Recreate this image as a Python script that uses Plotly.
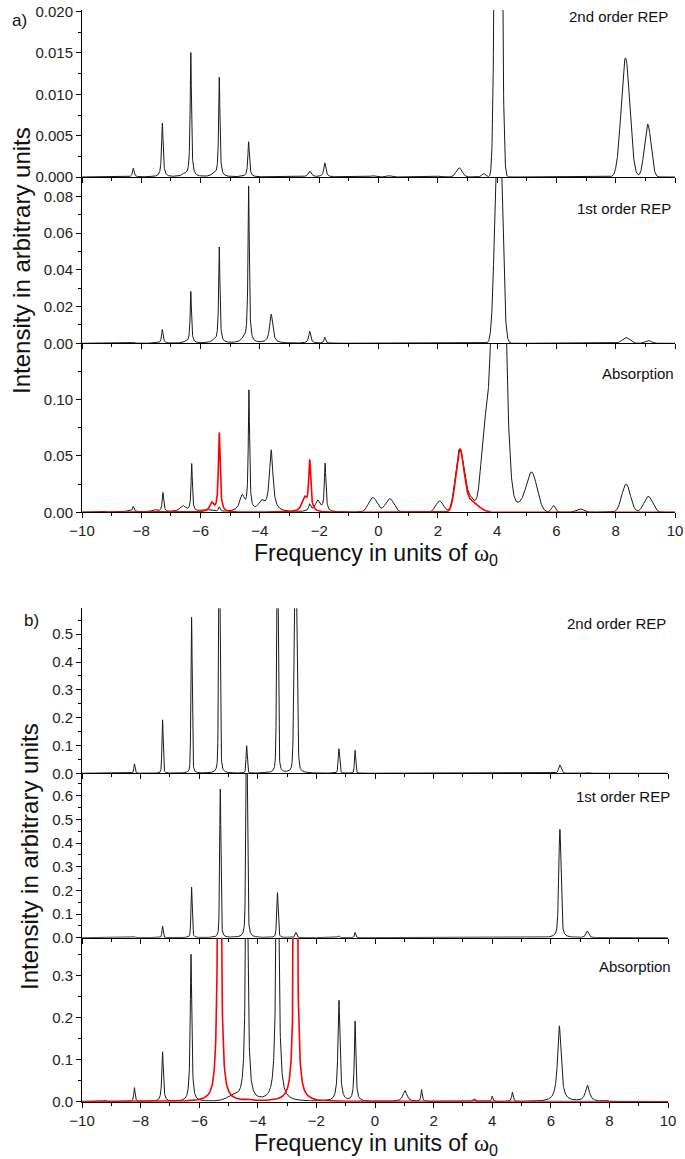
import numpy as np
import plotly.graph_objects as go

W, H = 685, 1159

# ---------------- data: spectral peaks ----------------
# each spectrum = list of peaks: centre (units of w0), height, half width, Lorentzian fraction
# panel a) 2nd order REP
a2_pos = [-8.27, -7.29, -6.55, -6.33, -5.57, -5.37, -4.38, -2.32, -1.81, -0.20, 0.35, 2.05, 2.72, 3.55, 4.04, 8.33, 9.08]
a2_amp = [0.00105, 0.0065, 0.0003, 0.0150, 0.0003, 0.0120, 0.00425, 0.0007, 0.0017, 0.00015, 0.00015, 0.0001, 0.0011, 0.0004, 0.12, 0.0144, 0.0064]
a2_hw = [0.03, 0.03, 0.08, 0.025, 0.08, 0.025, 0.03, 0.06, 0.04, 0.1, 0.1, 0.1, 0.12, 0.08, 0.095, 0.17, 0.13]
a2_eta = [1, 1, 1, 1, 1, 1, 1, 1, 1, 0, 0, 0, 0, 0, 0, 0, 0]

# panel a) 1st order REP
a1_pos = [-8.27, -7.29, -6.50, -6.33, -5.55, -5.37, -4.55, -4.38, -3.62, -2.32, -1.81, 4.05, 5.90, 8.35, 9.10]
a1_amp = [0.0006, 0.0075, 0.0006, 0.028, 0.0012, 0.052, 0.0020, 0.085, 0.0158, 0.0065, 0.0033, 0.14, 0.0004, 0.0031, 0.0015]
a1_hw = [0.03, 0.03, 0.1, 0.025, 0.1, 0.025, 0.1, 0.025, 0.06, 0.04, 0.03, 0.13, 0.1, 0.15, 0.12]
a1_eta = [1, 1, 1, 1, 1, 1, 1, 1, 1, 1, 1, 0, 0, 0, 0]

# panel a) absorption (black)
aA_pos = [-9.22, -8.40, -8.27, -7.55, -7.27, -6.60, -6.30, -5.80, -5.37, -4.60, -4.37, -3.95, -3.62, -2.32, -2.05, -1.80,
          -0.19, 0.38, 2.06, 2.74, 3.10, 3.58, 4.05, 4.70, 5.17, 5.90, 6.80, 8.35, 9.10]
aA_amp = [0.0008, 0.001, 0.0045, 0.002, 0.017, 0.0055, 0.042, 0.002, 0.004, 0.014, 0.105, 0.008, 0.054, 0.006, 0.010, 0.042,
          0.013, 0.012, 0.010, 0.055, 0.012, 0.065, 0.38, 0.007, 0.033, 0.006, 0.003, 0.025, 0.014]
aA_hw = [0.03, 0.2, 0.03, 0.1, 0.03, 0.12, 0.025, 0.2, 0.03, 0.1, 0.025, 0.12, 0.07, 0.04, 0.1, 0.03,
         0.17, 0.17, 0.15, 0.17, 0.2, 0.15, 0.22, 0.4, 0.21, 0.08, 0.15, 0.17, 0.17]
aA_eta = [1, 1, 1, 1, 1, 1, 1, 1, 1, 1, 1, 1, 1, 1, 1, 1,
          0, 0, 0, 0, 0, 0, 0, 0, 0, 0, 0, 0, 0]

# panel a) absorption (red)
aR_pos = [-5.63, -5.37, -2.50, -2.32, 2.74, 3.10]
aR_amp = [0.008, 0.070, 0.012, 0.044, 0.052, 0.010]
aR_hw = [0.08, 0.035, 0.1, 0.04, 0.16, 0.3]
aR_eta = [1, 1, 1, 1, 0, 0]

# panel b) 2nd order REP
b2_pos = [-8.21, -7.25, -6.26, -5.31, -4.38, -3.33, -2.71, -1.23, -0.68, 6.31, 7.23]
b2_amp = [0.034, 0.192, 0.56, 1.0, 0.098, 0.9, 0.9, 0.088, 0.082, 0.030, 0.003]
b2_hw = [0.025, 0.025, 0.025, 0.028, 0.025, 0.03, 0.05, 0.03, 0.025, 0.05, 0.06]
b2_eta = [0.3, 0.3, 0.3, 0.3, 0.3, 0.3, 0.2, 0.3, 0.3, 0.3, 0.3]

# panel b) 1st order REP
b1_pos = [-8.21, -7.25, -6.26, -5.28, -4.38, -3.33, -2.70, -1.23, -0.68, 4.70, 6.31, 7.24]
b1_amp = [0.004, 0.049, 0.213, 0.628, 1.0, 0.19, 0.0225, 0.008, 0.0225, 0.003, 0.458, 0.028]
b1_hw = [0.025, 0.025, 0.025, 0.025, 0.03, 0.03, 0.035, 0.025, 0.025, 0.03, 0.045, 0.055]
b1_eta = [0.4, 0.4, 0.4, 0.4, 0.4, 0.4, 0.4, 0.4, 0.4, 0.4, 0.5, 0.5]

# panel b) absorption (black)
bA_pos = [-9.22, -8.21, -7.25, -6.28, -4.85, -4.38, -3.33, -1.23, -0.68, 1.02, 1.59, 4.00, 4.69, 6.29, 7.25, 7.90]
bA_amp = [0.004, 0.033, 0.118, 0.35, 0.010, 0.8, 0.9, 0.24, 0.19, 0.026, 0.028, 0.013, 0.022, 0.18, 0.038, 0.003]
bA_hw = [0.03, 0.025, 0.03, 0.03, 0.25, 0.04, 0.045, 0.04, 0.03, 0.08, 0.025, 0.025, 0.03, 0.07, 0.08, 0.03]
bA_eta = [1, 1, 1, 1, 0, 1, 1, 1, 1, 1, 1, 1, 1, 1, 1, 1]

# panel b) absorption (red)
bR_pos = [-5.31, -4.30, -2.71, 3.38]
bR_amp = [2.0, 0.003, 2.0, 0.006]
bR_hw = [0.035, 0.1, 0.035, 0.05]
bR_eta = [1, 1, 1, 1]

x_ticks = [-10, -8, -6, -4, -2, 0, 2, 4, 6, 8, 10]
sub_labels = ["2nd order REP", "1st order REP", "Absorption"]

# ---------------- build curves ----------------
X = np.linspace(-10, 10, 4001)


def spectrum(pos, amp, hw, eta):
    y = np.zeros_like(X)
    for c, a, w, e in zip(pos, amp, hw, eta):
        d = (X - c) / w
        y += a * (e / (1 + d * d) + (1 - e) * np.exp(-np.log(2) * d * d))
    return y


FONT = "Liberation Sans, Arial, sans-serif"
BLACK = "#1a1a1a"
RED = "#ff0000"

panels = [
    dict(xpx=(82, 675), rows=[(10, 177), (177, 343.3), (343.3, 512.3)],
         ymax=[0.0202, 0.0905, 0.1496], dtick=[0.005, 0.02, 0.05], fmt=[".3f", ".2f", ".2f"],
         black=[spectrum(a2_pos, a2_amp, a2_hw, a2_eta), spectrum(a1_pos, a1_amp, a1_hw, a1_eta),
                spectrum(aA_pos, aA_amp, aA_hw, aA_eta)],
         red=spectrum(aR_pos, aR_amp, aR_hw, aR_eta),
         labels_y=[17, 208, 373], labels_x=[670, 673, 676],
         tag="a)", tag_xy=(19, 21), ytitle_xy=(21, 261), xtitle=(376, 554)),
    dict(xpx=(82, 668), rows=[(608.3, 773.3), (773.3, 937.7), (937.7, 1101.7)],
         ymax=[0.593, 0.695, 0.39], dtick=[0.1, 0.1, 0.1], fmt=[".1f", ".1f", ".1f"],
         black=[spectrum(b2_pos, b2_amp, b2_hw, b2_eta), spectrum(b1_pos, b1_amp, b1_hw, b1_eta),
                spectrum(bA_pos, bA_amp, bA_hw, bA_eta)],
         red=spectrum(bR_pos, bR_amp, bR_hw, bR_eta),
         labels_y=[623, 796, 966], labels_x=[668, 672, 673],
         tag="b)", tag_xy=(32, 620), ytitle_xy=(29, 857), xtitle=(376, 1144)),
]

fig = go.Figure()
layout = {}
annotations = []
k = 0
for p in panels:
    for r in range(3):
        k += 1
        xa = "x" if k == 1 else f"x{k}"
        ya = "y" if k == 1 else f"y{k}"
        xkey = "xaxis" if k == 1 else f"xaxis{k}"
        ykey = "yaxis" if k == 1 else f"yaxis{k}"
        top, bot = p["rows"][r]
        fig.add_trace(go.Scatter(x=X, y=p["black"][r], mode="lines", xaxis=xa, yaxis=ya,
                                 line=dict(color=BLACK, width=1), showlegend=False, hoverinfo="skip"))
        if r == 2:
            fig.add_trace(go.Scatter(x=X, y=p["red"], mode="lines", xaxis=xa, yaxis=ya,
                                     line=dict(color=RED, width=1.6), showlegend=False, hoverinfo="skip"))
        layout[xkey] = dict(domain=[p["xpx"][0] / W, p["xpx"][1] / W], anchor=ya, range=[-10, 10],
                            tickvals=x_ticks, showticklabels=(r == 2), ticks="outside", ticklen=5,
                            tickwidth=1, tickcolor="black", automargin=False,
                            minor=dict(dtick=1, tick0=0, ticks="outside", ticklen=3, tickcolor="black"),
                            showline=True, linecolor="black", linewidth=1, showgrid=False, zeroline=False,
                            tickfont=dict(family=FONT, size=15, color="#222"))
        layout[ykey] = dict(domain=[1 - bot / H, 1 - top / H], anchor=xa, range=[0, p["ymax"][r]],
                            dtick=p["dtick"][r], tick0=0, tickformat=p["fmt"][r], ticks="outside",
                            ticklen=5, tickwidth=1, tickcolor="black", automargin=False,
                            minor=dict(dtick=p["dtick"][r] / 2, ticks="outside", ticklen=3, tickcolor="black"),
                            showline=True, linecolor="black", linewidth=1, showgrid=False, zeroline=False,
                            tickfont=dict(family=FONT, size=15, color="#222"))
        annotations.append(dict(text=sub_labels[r], x=p["labels_x"][r] / W, y=1 - p["labels_y"][r] / H,
                                xref="paper", yref="paper", xanchor="right", yanchor="middle",
                                showarrow=False, font=dict(family=FONT, size=15, color="#111")))
    annotations.append(dict(text=p["tag"], x=p["tag_xy"][0] / W, y=1 - p["tag_xy"][1] / H,
                            xref="paper", yref="paper", xanchor="center", yanchor="middle",
                            showarrow=False, font=dict(family=FONT, size=17, color="#111")))
    annotations.append(dict(text="Intensity in arbitrary units", x=p["ytitle_xy"][0] / W,
                            y=1 - p["ytitle_xy"][1] / H, xref="paper", yref="paper", textangle=-90,
                            xanchor="center", yanchor="middle", showarrow=False,
                            font=dict(family=FONT, size=24, color="#111")))
    annotations.append(dict(text="Frequency in units of <span style='font-family:Liberation Serif'>ω</span><sub>0</sub>",
                            x=p["xtitle"][0] / W, y=1 - p["xtitle"][1] / H, xref="paper", yref="paper",
                            xanchor="center", yanchor="middle", showarrow=False,
                            font=dict(family=FONT, size=23, color="#111")))

fig.update_layout(width=W, height=H, margin=dict(l=0, r=0, t=0, b=0, autoexpand=False),
                  paper_bgcolor="white", plot_bgcolor="white",
                  annotations=annotations, **layout)

fig.write_html("out.html")
